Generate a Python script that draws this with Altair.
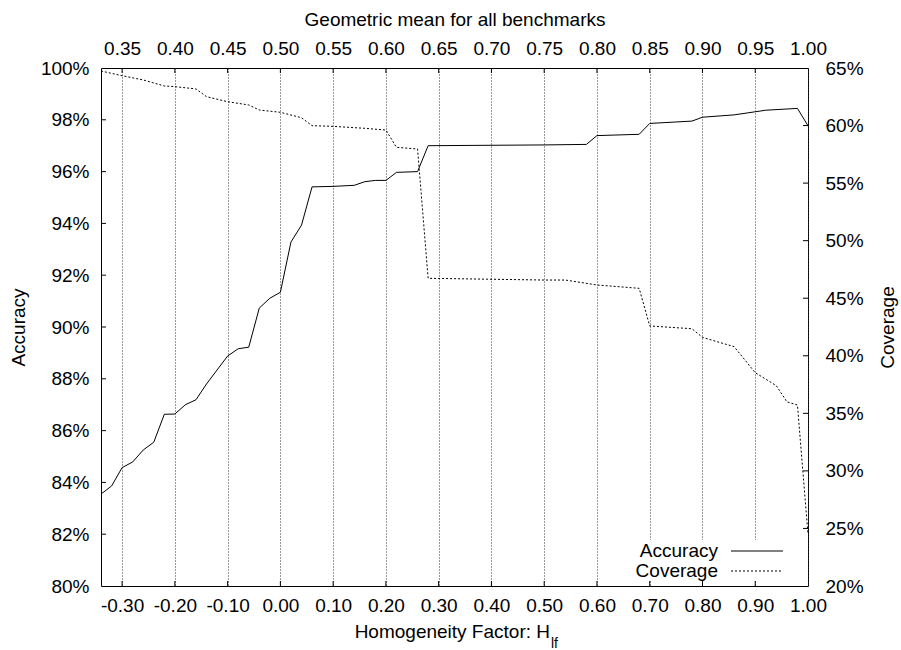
import altair as alt
import pandas as pd

# Homogeneity factor breakpoints and accuracy (%)
acc_h = [-0.34, -0.32, -0.30, -0.28, -0.26, -0.24, -0.22, -0.20, -0.18, -0.16,
         -0.14, -0.12, -0.10, -0.08, -0.06, -0.04, -0.02, 0.00, 0.02, 0.04,
         0.06, 0.10, 0.14, 0.16, 0.18, 0.20, 0.22, 0.26, 0.28, 0.50,
         0.58, 0.60, 0.68, 0.70, 0.78, 0.80, 0.86, 0.90, 0.92, 0.98, 1.00]
acc_v = [83.55, 83.86, 84.57, 84.79, 85.25, 85.55, 86.63, 86.64, 87.00, 87.19,
         87.80, 88.34, 88.88, 89.16, 89.22, 90.73, 91.11, 91.34, 93.28, 93.93,
         95.41, 95.43, 95.47, 95.61, 95.66, 95.66, 95.97, 96.00, 97.00, 97.03,
         97.05, 97.39, 97.44, 97.86, 97.95, 98.10, 98.19, 98.31, 98.37, 98.44, 97.77]

# Homogeneity factor breakpoints and coverage (%)
cov_h = [-0.34, -0.30, -0.26, -0.22, -0.20, -0.16, -0.14, -0.10, -0.06, -0.04,
         0.00, 0.04, 0.06, 0.10, 0.16, 0.20, 0.22, 0.26, 0.28, 0.50,
         0.54, 0.60, 0.68, 0.70, 0.78, 0.80, 0.86, 0.90, 0.94, 0.96,
         0.98, 1.00]
cov_v = [64.74, 64.33, 63.96, 63.44, 63.38, 63.18, 62.51, 62.07, 61.79, 61.35,
         61.15, 60.68, 59.99, 59.93, 59.76, 59.61, 58.11, 57.96, 46.73, 46.58,
         46.58, 46.15, 45.86, 42.59, 42.35, 41.60, 40.79, 38.53, 37.40, 36.00,
         35.72, 24.50]

x_ticks = [-0.30, -0.20, -0.10, 0.00, 0.10, 0.20, 0.30, 0.40, 0.50, 0.60,
           0.70, 0.80, 0.90, 1.00]
acc_ticks = [80, 82, 84, 86, 88, 90, 92, 94, 96, 98, 100]
cov_ticks = [20, 25, 30, 35, 40, 45, 50, 55, 60, 65]
legend_labels = ["Accuracy", "Coverage"]

W, H = 707, 518
FONT = "Liberation Sans"
FS = 19

acc_df = pd.DataFrame({"h": acc_h, "v": acc_v})
cov_df = pd.DataFrame({"h": cov_h, "v": cov_v})
xt_df = pd.DataFrame({"t": x_ticks[:-1]})
at_df = pd.DataFrame({"t": acc_ticks[1:-1]})
ct_df = pd.DataFrame({"t": cov_ticks[1:-1]})

x_scale = alt.Scale(domain=[-0.34, 1.0], nice=False, zero=False)
acc_scale = alt.Scale(domain=[80, 100], nice=False, zero=False)
cov_scale = alt.Scale(domain=[20, 65], nice=False, zero=False)

bottom_lbl = "(datum.value < -0.001 ? '-' : '') + format(abs(datum.value), '.2f')"
top_lbl = "format(0.35 + (datum.value + 0.30) * 0.5, '.2f')"

common_axis = dict(ticks=False, domain=False, labelOverlap=False, labelFlush=False)

acc_line = alt.Chart(acc_df).mark_line(color="black", strokeWidth=1).encode(
    x=alt.X("h:Q", scale=x_scale, axis=alt.Axis(
        orient="bottom", values=x_ticks, labelExpr=bottom_lbl, title=None,
        grid=True, gridDash=[1, 2], gridColor="#333", gridWidth=1,
        labelPadding=10, **common_axis)),
    y=alt.Y("v:Q", scale=acc_scale, axis=alt.Axis(
        orient="left", values=acc_ticks, labelExpr="datum.value + '%'",
        title="Accuracy", grid=False, labelPadding=12, titlePadding=12,
        **common_axis)),
)

cov_line = alt.Chart(cov_df).mark_line(color="black", strokeWidth=1, strokeDash=[2, 2]).encode(
    x=alt.X("h:Q", scale=x_scale, axis=alt.Axis(
        orient="top", values=x_ticks, labelExpr=top_lbl,
        title="Geometric mean for all benchmarks", grid=False,
        labelPadding=10, titlePadding=10, **common_axis)),
    y=alt.Y("v:Q", scale=cov_scale, axis=alt.Axis(
        orient="right", values=cov_ticks, labelExpr="datum.value + '%'",
        title="Coverage", titleAngle=270, grid=False,
        labelPadding=17, titlePadding=34, **common_axis)),
)

# inward tick marks on all four sides
tick_style = dict(color="black", strokeWidth=1)
xb_ticks = alt.Chart(xt_df).mark_rule(**tick_style).encode(
    x=alt.X("t:Q", scale=x_scale, axis=None), y=alt.value(H), y2=alt.value(H - 5))
xt_ticks = alt.Chart(xt_df).mark_rule(**tick_style).encode(
    x=alt.X("t:Q", scale=x_scale, axis=None), y=alt.value(0), y2=alt.value(5))
yl_ticks = alt.Chart(at_df).mark_rule(**tick_style).encode(
    y=alt.Y("t:Q", scale=acc_scale, axis=None), x=alt.value(0), x2=alt.value(5))
yr_ticks = alt.Chart(ct_df).mark_rule(**tick_style).encode(
    y=alt.Y("t:Q", scale=cov_scale, axis=None), x=alt.value(W - 5), x2=alt.value(W))

# key box in the lower right corner
key_bg = alt.Chart(pd.DataFrame({"k": [0]})).mark_rect(color="white").encode(
    x=alt.value(529), x2=alt.value(689), y=alt.value(472), y2=alt.value(513))
key_txt_acc = alt.Chart(pd.DataFrame({"label": [legend_labels[0]]})).mark_text(
    align="right", baseline="alphabetic", font=FONT, fontSize=FS, color="black").encode(
    x=alt.value(617), y=alt.value(489), text="label:N")
key_txt_cov = alt.Chart(pd.DataFrame({"label": [legend_labels[1]]})).mark_text(
    align="right", baseline="alphabetic", font=FONT, fontSize=FS, color="black").encode(
    x=alt.value(617), y=alt.value(509), text="label:N")
key_line_acc = alt.Chart(pd.DataFrame({"k": [0]})).mark_rule(color="black", strokeWidth=1).encode(
    x=alt.value(630), x2=alt.value(682), y=alt.value(483))
key_line_cov = alt.Chart(pd.DataFrame({"k": [0]})).mark_rule(
    color="black", strokeWidth=1, strokeDash=[2, 2]).encode(
    x=alt.value(630), x2=alt.value(682), y=alt.value(503))

# x axis title with subscript
xtitle_main = alt.Chart(pd.DataFrame({"s": ["Homogeneity Factor: H"]})).mark_text(
    align="right", baseline="alphabetic", font=FONT, fontSize=FS, color="black").encode(
    x=alt.value(449), y=alt.value(570), text="s:N")
xtitle_sub = alt.Chart(pd.DataFrame({"s": ["lf"]})).mark_text(
    align="left", baseline="alphabetic", font=FONT, fontSize=14, color="black").encode(
    x=alt.value(450), y=alt.value(580), text="s:N")

chart = alt.layer(
    acc_line, cov_line, key_bg, xb_ticks, xt_ticks, yl_ticks, yr_ticks,
    key_txt_acc, key_txt_cov, key_line_acc, key_line_cov, xtitle_main, xtitle_sub,
).resolve_scale(
    y="independent"
).resolve_axis(
    x="independent", y="independent"
).properties(
    width=W, height=H,
    autosize=alt.AutoSizeParams(type="none"),
    padding={"left": 101, "top": 68, "right": 93, "bottom": 64},
).configure_view(
    stroke="black", strokeWidth=1
).configure_axis(
    labelFont=FONT, labelFontSize=FS, labelColor="black",
    titleFont=FONT, titleFontSize=FS, titleFontWeight="normal", titleColor="black",
)

chart.save("out.html", embed_options={"renderer": "svg", "actions": False})
